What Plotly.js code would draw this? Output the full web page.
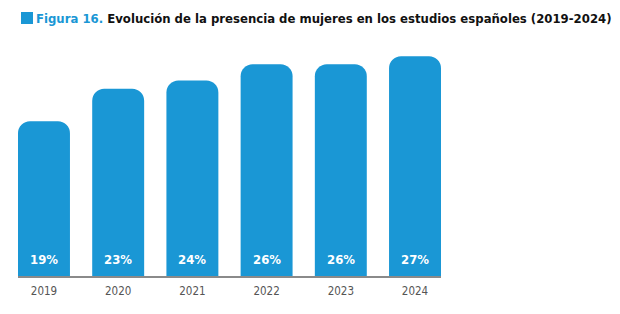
<!DOCTYPE html>
<html>
<head>
<meta charset="utf-8">
<script src="https://cdn.plot.ly/plotly-3.0.1.min.js"></script>
<style>
  html, body { margin: 0; padding: 0; background: #fff; }
  #chart { width: 620px; height: 314px; }
</style>
</head>
<body>
<div id="chart"></div>
<script>
// Share of women in Spanish studios, by year
const years = ['2019', '2020', '2021', '2022', '2023', '2024'];
const womenShare = [19, 23, 24, 26, 26, 27];
const shareLabels = ['19%', '23%', '24%', '26%', '26%', '27%'];

const BLUE = '#1a97d5';
const SANS = '"DejaVu Sans Condensed", "Liberation Sans", Arial, sans-serif';

const barTrace = {
  type: 'bar',
  x: years,
  y: womenShare,
  marker: { color: BLUE, line: { width: 0 } },
  hoverinfo: 'skip'
};

// Value labels sit near the foot of each bar (x given as category index)
const valueNotes = years.map((yr, i) => ({
  x: years.indexOf(yr),
  y: 0,
  xref: 'x',
  yref: 'y',
  text: '<b>' + shareLabels[i] + '</b>',
  showarrow: false,
  xanchor: 'center',
  yanchor: 'middle',
  yshift: 17,
  font: { family: SANS, size: 13, color: '#ffffff' }
}));

const layout = {
  width: 620,
  height: 314,
  margin: { l: 18, r: 179, t: 48, b: 38 },
  paper_bgcolor: '#ffffff',
  plot_bgcolor: '#ffffff',
  showlegend: false,
  bargap: 0.3,
  barcornerradius: 12,
  title: {
    text: '<b><span style="color:' + BLUE + '">Figura 16.</span> Evolución de la presencia de mujeres en los estudios españoles (2019-2024)</b>',
    x: 36 / 620,
    xanchor: 'left',
    xref: 'container',
    y: 1 - 18.5 / 314,
    yanchor: 'middle',
    yref: 'container',
    font: { family: SANS, size: 13, color: '#111111' }
  },
  xaxis: {
    type: 'category',
    range: [-0.35, 5.35],
    showline: true,
    linecolor: '#8a8a8a',
    linewidth: 1.5,
    ticks: '',
    ticklabelstandoff: 4,
    showgrid: false,
    zeroline: false,
    tickfont: { family: SANS, size: 11.5, color: '#555555' },
    fixedrange: true
  },
  yaxis: {
    range: [0, 28],
    showticklabels: false,
    ticks: '',
    showline: false,
    showgrid: false,
    zeroline: false,
    fixedrange: true
  },
  annotations: valueNotes,
  shapes: [{
    // small blue square leading the heading
    type: 'rect',
    xref: 'paper', yref: 'paper',
    xsizemode: 'pixel', ysizemode: 'pixel',
    xanchor: 0, yanchor: 1,
    x0: 3, x1: 15,
    y0: 24, y1: 36,
    fillcolor: BLUE,
    line: { width: 0 }
  }]
};

Plotly.newPlot('chart', [barTrace], layout, { displayModeBar: false, staticPlot: true });
</script>
</body>
</html>
